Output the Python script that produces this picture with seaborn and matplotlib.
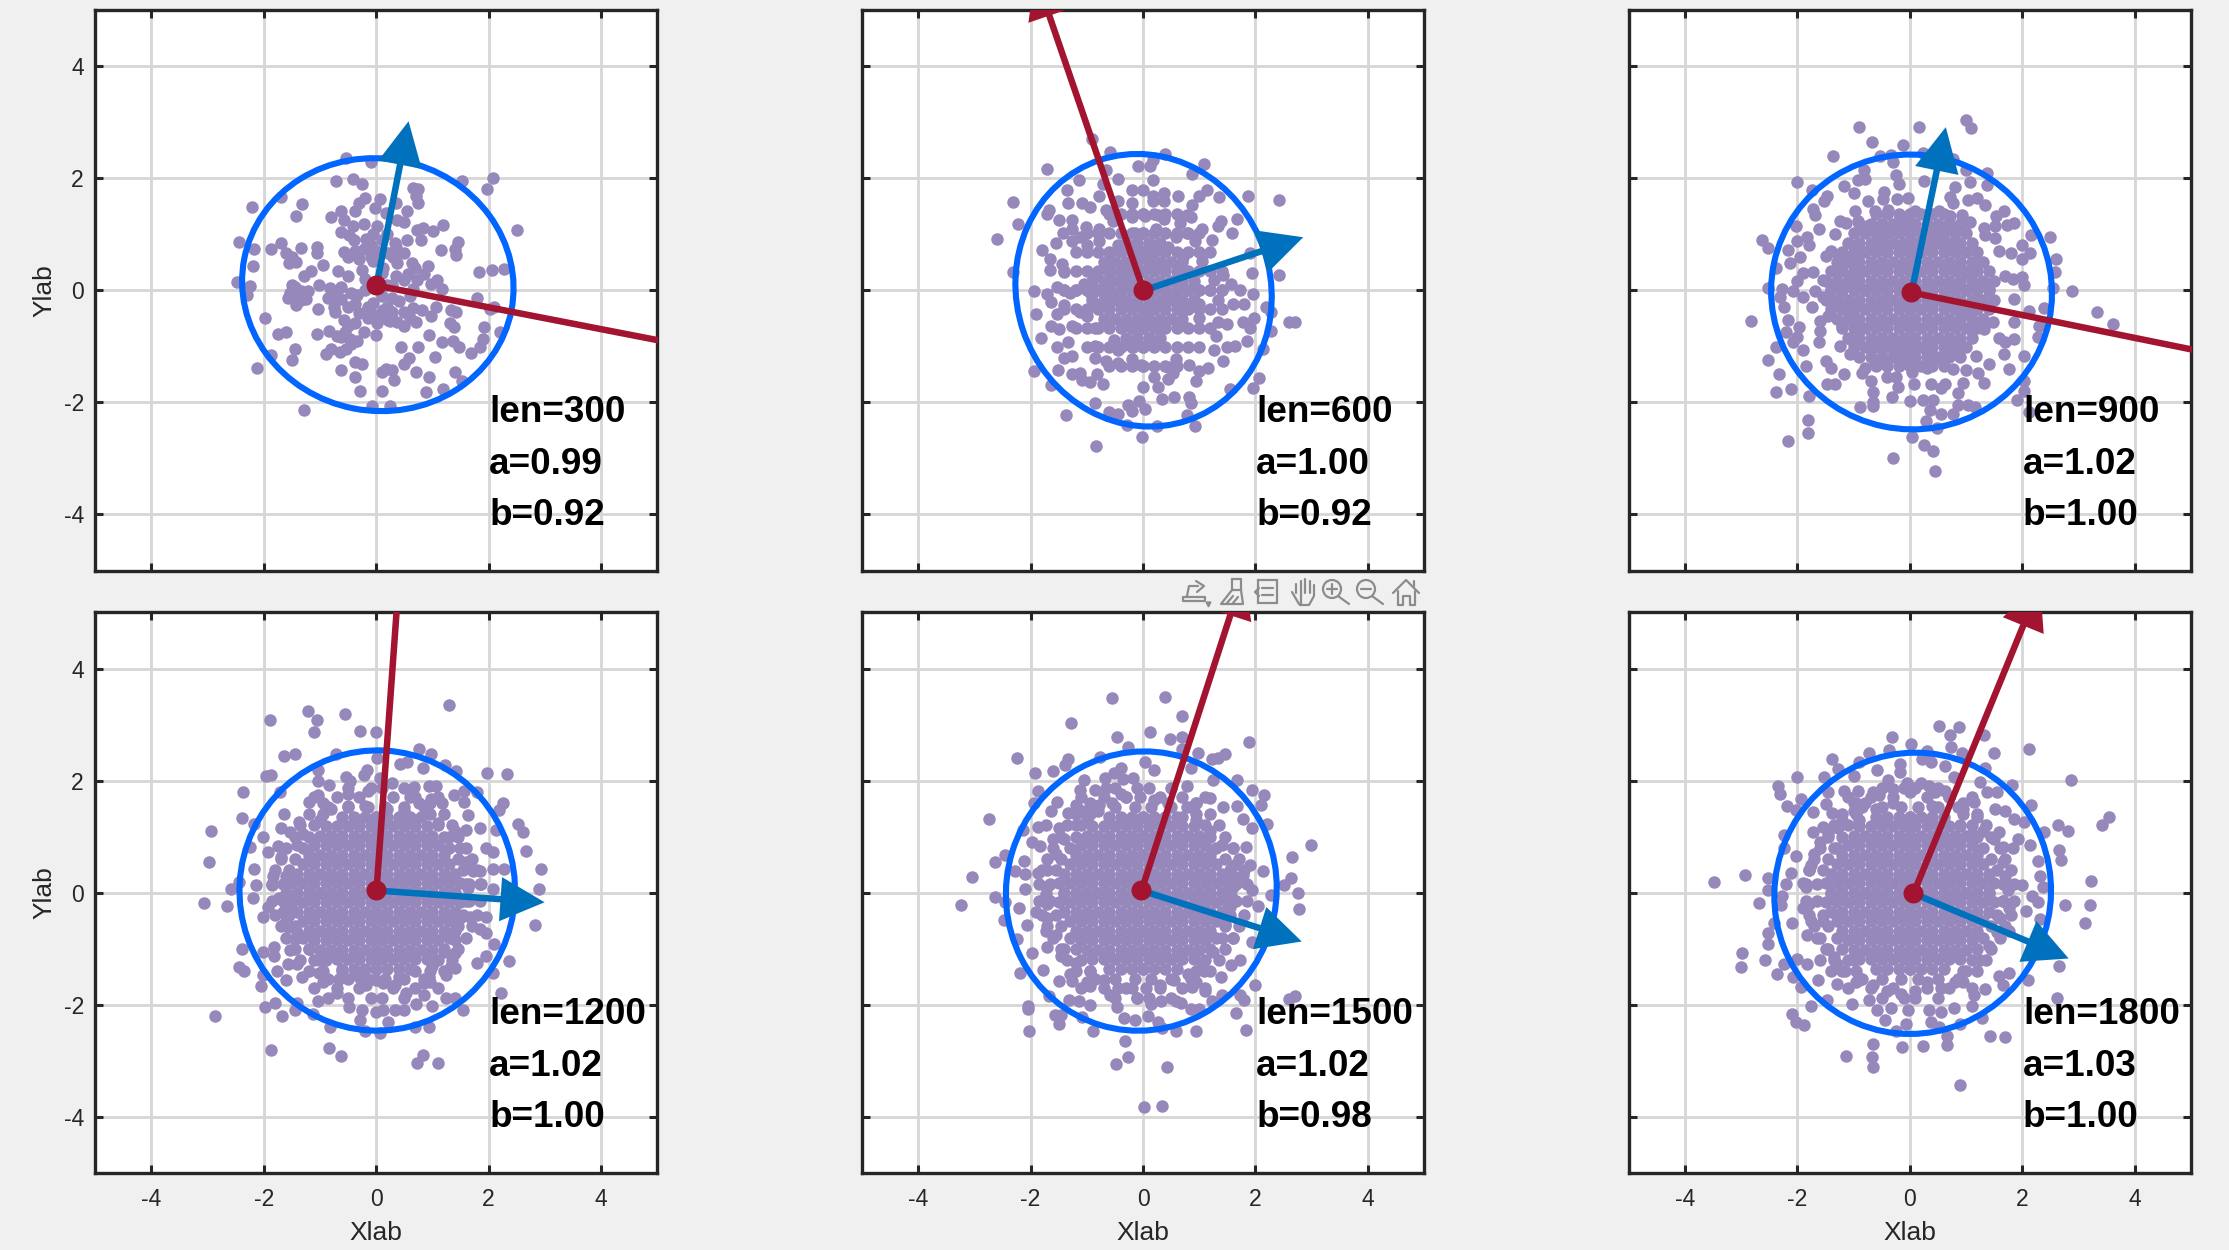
import matplotlib
matplotlib.use('Agg')
import matplotlib.pyplot as plt
from matplotlib.lines import Line2D
from matplotlib.patches import Circle, Ellipse, Rectangle
import seaborn as sns

# values, one small list per panel
lengths = [300, 600, 900, 1200, 1500, 1800]
a_vals = [0.99, 1.00, 1.02, 1.02, 1.02, 1.03]
b_vals = [0.92, 0.92, 1.00, 1.00, 0.98, 1.00]

origin_x = [0.0, 0.0, 0.02, 0.0, -0.03, 0.05]
origin_y = [0.1, 0.0, -0.03, 0.05, 0.04, -0.01]
blue_tip_x = [0.57, 2.84, 0.63, 2.99, 2.82, 2.81]
blue_tip_y = [3.03, 0.95, 2.92, -0.16, -0.87, -1.17]
red_tip_x = [6.0, -1.93, 6.0, 0.42, 1.79, 2.3]
red_tip_y = [-1.07, 5.65, -1.25, 5.9, 5.7, 5.5]

ell_x = [0.03, 0.01, 0.03, 0.02, -0.03, 0.05]
ell_y = [0.1, 0.0, -0.03, 0.04, 0.03, -0.01]
ell_w = [4.5, 4.52, 4.9, 4.9, 4.8, 4.9]
ell_h = [4.84, 4.9, 5.0, 5.0, 5.0, 5.04]
ell_angle = [79, 18.5, 78, -3, -17, -23]

# the middle of the clouds is solid, so these rows only stand for what is hidden there
# (y of the row, |x| values), used mirrored in all four quadrants
core_inner = [
    (0.0, [0, 0.2, 0.4, 0.6, 0.8]),
    (0.17, [0.1, 0.3, 0.5, 0.7, 0.9]),
    (0.34, [0, 0.2, 0.4, 0.6, 0.8]),
    (0.51, [0.1, 0.3, 0.5, 0.7]),
    (0.68, [0, 0.2, 0.4, 0.6]),
    (0.85, [0.1, 0.3]),
]
core_ring = [
    (0.0, [1.0, 1.2, 1.4]),
    (0.17, [1.1, 1.3, 1.5]),
    (0.34, [1.0, 1.2, 1.4]),
    (0.51, [0.9, 1.1, 1.3]),
    (0.68, [0.8, 1.0, 1.2]),
    (0.85, [0.5, 0.7, 0.9, 1.1]),
    (1.02, [0, 0.2, 0.4, 0.6, 0.8, 1.0]),
    (1.19, [0.1, 0.3, 0.5, 0.7, 0.9]),
    (1.36, [0, 0.2, 0.4, 0.6]),
]
core_band = [
    (0.15, [1.65, 1.85]),
    (0.4, [1.55, 1.8]),
    (0.6, [1.45, 1.7]),
    (0.8, [1.3, 1.6]),
    (1.0, [1.2, 1.45]),
    (1.2, [1.1, 1.35]),
    (1.4, [0.95, 1.2]),
    (1.53, [0.15, 0.5, 0.85]),
    (1.6, [0.95]),
    (1.7, [0.3, 0.7, 1.1]),
    (1.87, [0.1, 0.5]),
]

pts_300 = [(-0.54,2.36),(-0.09,2.28),(-0.72,1.95),(-0.42,1.98),(-0.25,1.9),(1.53,1.95),(2.08,2.0),(1.98,1.81),(0.65,1.83),(0.75,1.81),
    (0.71,1.68),(0.75,1.55),(-2.21,1.48),(-1.69,1.67),(-1.31,1.53),(-1.42,1.32),(-0.2,1.64),(0.07,1.62),(0.36,1.56),(-0.3,1.56),
    (-0.02,1.47),(-0.37,1.42),(-0.62,1.42),(-0.8,1.3),(-0.58,1.25),(-0.42,1.15),(-0.22,1.18),(0.55,1.42),(0.49,1.21),(0.37,1.25),
    (1.19,1.17),(0.73,1.08),(0.83,1.11),(1.01,1.05),(0.79,0.89),(2.5,1.08),(-0.62,1.04),(-0.48,0.98),(-2.44,0.86),(-1.69,0.85),
    (-2.18,0.73),(-1.87,0.74),(-1.06,0.77),(-1.06,0.67),(-1.33,0.76),(-1.61,0.67),(-1.49,0.59),(-1.55,0.48),(-1.43,0.5),(-0.95,0.45),
    (-2.19,0.44),(1.46,0.86),(1.4,0.74),(1.15,0.71),(1.42,0.63),(1.83,0.33),(2.06,0.36),(2.28,0.38),(1.79,-0.14),(2.1,-0.29),
    (2.02,-0.34),(1.33,-0.35),(1.42,-0.38),(1.07,-0.29),(1.31,-0.59),(1.38,-0.65),(1.92,-0.65),(2.21,-0.75),(1.9,-0.87),(0.94,-0.8),
    (1.18,-0.92),(1.37,-0.9),(1.48,-1.02),(1.84,-1.02),(1.69,-1.12),(0.45,-1.02),(0.75,-1.02),(1.05,-1.19),(0.59,-1.21),(0.49,-1.31),
    (0.1,-1.45),(0.17,-1.41),(0.29,-1.43),(0.71,-1.45),(0.94,-1.54),(1.4,-1.45),(1.52,-1.62),(0.32,-1.6),(0.89,-1.82),(1.19,-1.76),
    (0.11,-1.8),(-0.28,-1.8),(-0.08,-2.06),(0.24,-2.07),(-1.28,-2.13),(-0.37,-1.55),(-0.63,-1.43),(-0.38,-1.28),(-0.25,-1.31),(-2.12,-1.38),
    (-1.49,-1.24),(-1.45,-1.05),(-1.87,-1.16),(-1.74,-0.78),(-1.6,-0.75),(-1.97,-0.5),(-1.05,-0.78),(-1.04,-0.34),(-0.74,-0.39),(-0.83,-0.73),
    (-0.9,-1.14),(-0.8,-1.05),(-0.64,-1.1),(-0.54,-1.04),(-0.62,-0.83),(-0.7,-0.82),(-0.46,-0.87),(-0.34,-0.9),(-0.5,-0.63),(-0.38,-0.59),
    (-0.58,-0.53),(-0.22,-0.75),(0,-0.8),(-0.14,-0.49),(0.02,-0.59),(0.21,-0.53),(0.37,-0.56),(0.49,-0.64),(0.71,-0.57),(0.13,-0.35),
    (0.29,-0.39),(0.49,-0.39),(0.65,-0.32),(0.81,-0.35),(0.97,-0.46),(0.28,-0.14),(-0.06,-0.22),(-0.38,-0.25),(-0.34,-0.08),(-0.62,0.05),
    (-0.82,0.04),(-0.85,-0.14),(-0.63,-0.15),(-1.01,0.09),(-1.21,-0.01),(-1.33,-0.18),(-1.43,-0.27),(-1.57,-0.14),(-1.45,0.05),(-1.33,-0.01),
    (-1.53,-0.05),(-2.25,0.07),(-2.29,-0.08),(-2.48,0.14),(-1.29,0.26),(-1.16,0.34),(-0.68,0.34),(-0.5,0.25),(-0.26,0.36),(-0.06,0.53),
    (-0.58,0.68),(-0.5,0.6),(-0.38,0.7),(-0.22,0.74),(-0.1,0.8),(-0.18,0.91),(-0.06,1.01),(0.02,1.15),(0.17,1.38),(0.33,0.84),
    (0.21,0.67),(0.49,0.67),(0.36,0.77),(0.37,0.48),(0.63,0.48),(0.93,0.43),(0.85,0.29),(0.57,0.29),(0.73,0.19),(1.09,0.19),
    (0.97,0.11),(1.18,0.02),(0.13,0.4),(-0.06,0.12),(0.29,0.09),(0.65,0.02),(0.49,0.19),(-0.2,0.0),(0.1,-0.1),(-0.45,-0.05),
    (-0.2,0.2),(0.2,0.1),(0.1,0.3),(-0.1,-0.4),(0.2,-0.3),(0.4,-0.2),(0.6,-0.1),(-0.3,-0.4),(-0.5,-0.3),(-0.7,-0.1),
    (0.0,0.7),(0.1,0.9),(0.2,1.0),(-0.1,0.6),(-0.3,0.55),(-0.4,0.9),(-0.75,-0.3),(-0.55,-0.75),(-0.45,-0.95),(0.35,0.25),
    (0.7,0.4),(0.25,-0.55),(0.6,-0.5),(-0.15,-0.3),(0.05,-0.45),(0.3,0.6),(0.55,0.9),(-1.4,-0.1),(-1.25,-0.15),(-1.5,0.1)]

pts_600 = [(-0.9,2.7),(-0.58,2.47),(-1.7,2.17),(0.39,2.43),(1.09,2.26),(0.87,2.08),(-0.09,2.22),(0.12,2.22),(0.17,2.33),(0.18,1.97),
    (-0.44,1.99),(-0.65,2.15),(-0.71,1.9),(-1.14,1.97),(-1.35,1.78),(-2.31,1.57),(-2.23,1.18),(-2.59,0.91),(-1.33,1.55),(-1.67,1.44),
    (-1.7,1.36),(-1.5,1.26),(-1.09,1.55),(-0.95,1.48),(-0.78,1.69),(-0.2,1.78),(0,1.78),(0.17,1.69),(0.37,1.73),(0.37,1.59),
    (0.17,1.59),(0.63,1.69),(1.14,1.78),(0.99,1.69),(1.36,1.66),(1.87,1.69),(2.41,1.61),(1.67,1.27),(1.39,1.23),(1.33,1.15),
    (1.59,1.02),(1.22,0.89),(1.05,1.09),(0.88,1.52),(0.78,1.34),(0.65,1.2),(0.85,1.3),(-0.44,1.59),(-0.2,1.55),(-0.65,1.43),
    (-0.2,1.3),(0.03,1.32),(0.27,1.34),(0.37,1.27),(-0.54,1.23),(-1.26,1.26),(-1.43,1.02),(-1.02,1.13),(-0.78,1.09),(-1.26,1.09),
    (-1.54,0.85),(-1.8,0.71),(-1.65,0.55),(-1.65,0.37),(-1.44,0.47),(-1.41,0.32),(-2.31,0.33),(-1.26,0.88),(-1.12,0.95),(-0.99,0.81),
    (-0.78,0.88),(-0.58,0.67),(-0.44,0.81),(-0.14,1.02),(0.24,1.09),(0.58,0.95),(0.78,1.02),(0.92,0.88),(0.44,0.78),(0.17,0.67),
    (-0.03,0.6),(0.71,0.6),(1.05,0.53),(1.9,0.67),(2.41,0.28),(1.93,0.3),(1.43,0.28),(1.26,0.18),(1.56,0.11),(1.73,0),
    (1.95,-0.07),(1.8,-0.25),(2.18,-0.3),(2.28,-0.39),(2.59,-0.56),(2.7,-0.56),(2.28,-0.73),(1.97,-0.49),(1.77,-0.56),(1.9,-0.67),
    (1.85,-0.9),(2.14,-1.04),(1.63,-0.99),(1.5,-1.02),(1.43,-1.27),(1.26,-1.06),(1.29,-0.81),(1.33,-0.56),(1.5,-0.61),(1.6,-0.25),
    (1.33,-0.18),(0.99,-0.25),(0.99,-0.49),(0.78,-0.25),(0.58,-0.04),(0.71,-0.35),(0.37,-0.21),(0.17,-0.32),(0.24,-0.67),(-0.17,-0.67),
    (-0.34,-0.63),(0.03,-0.46),(-0.31,-0.25),(-0.51,-0.11),(-0.71,-0.25),(-0.92,-0.07),(-1.05,0.11),(-0.85,0.25),(-0.58,0.32),(-0.31,0.25),
    (-1.29,-0.05),(-1.53,0.05),(-1.7,-0.07),(-1.63,-0.21),(-1.94,-0.02),(-1.41,-0.26),(-1.53,-0.42),(-1.9,-0.42),(-1.63,-0.63),(-1.5,-0.7),
    (-1.82,-0.85),(-1.12,-0.39),(-0.85,-0.25),(-0.99,-0.46),(-1.26,-0.63),(-0.85,-0.67),(-0.65,-0.53),(-1.33,-0.92),(-1.53,-1.02),(-1.41,-1.2),
    (-1.26,-1.18),(-0.85,-1.2),(-0.85,-0.99),(-0.51,-0.88),(-0.17,-1.02),(-0.44,-1.06),(-0.65,-1.27),(-0.44,-1.3),(-0.2,-1.23),(-0.03,-1.34),
    (0.58,-1.23),(0.44,-1.37),(0.82,-1.34),(0.99,-1.44),(1.16,-1.39),(0.95,-1.62),(0.54,-1.48),(0.2,-1.55),(0.44,-1.59),(0.27,-1.73),
    (0.34,-1.94),(0.56,-1.9),(0.82,-1.9),(0.85,-2.02),(0,-1.73),(-0.07,-1.97),(-0.27,-2.04),(-0.2,-2.15),(0.03,-2.11),(-0.85,-2.02),
    (-0.61,-2.18),(-0.44,-2.21),(-0.29,-2.4),(0.25,-2.43),(0.78,-2.22),(0.92,-2.43),(-1.37,-2.23),(-0.02,-2.61),(-0.83,-2.77),(-1.94,-1.44),
    (-1.51,-1.43),(-1.63,-1.69),(-1.27,-1.5),(-1.12,-1.48),(-1.09,-1.6),(-0.95,-1.64),(-0.82,-1.5),(-0.71,-1.67),(2.06,-1.57),(1.95,-1.75),
    (1.54,-1.76)]

pts_900 = [(-0.9,2.92),(0.16,2.91),(1.0,3.04),(1.09,2.9),(-0.67,2.65),(-0.12,2.59),(-1.37,2.4),(-0.53,2.39),(-0.34,2.41),(-0.3,2.29),
    (0.24,2.44),(0.76,2.34),(1.38,2.1),(1.0,2.14),(-2.0,1.93),(-1.74,1.78),(-0.81,2.14),(-0.93,1.96),(-0.79,1.98),(-0.24,2.05),
    (-0.19,1.9),(0.26,1.95),(1.07,1.94),(1.38,1.88),(0.81,1.85),(-1.17,1.86),(-1.0,1.73),(-1.48,1.69),(-1.52,1.59),(-0.46,1.76),
    (-0.48,1.62),(-0.23,1.62),(-0.03,1.64),(0.72,1.66),(0.76,1.56),(1.03,1.61),(1.19,1.64),(1.33,1.52),(1.67,1.42),(1.54,1.32),
    (1.86,1.2),(1.72,1.16),(-1.72,1.45),(-1.69,1.35),(-0.74,1.59),(-0.97,1.42),(-0.62,1.42),(-0.38,1.43),(-1.24,1.23),(-1.14,1.2),
    (-1.34,1.0),(-1.62,1.09),(-2.02,1.15),(-0.93,1.23),(-0.76,1.15),(-0.17,1.32),(0.1,1.42),(0.52,1.42),(0.72,1.32),(0.93,1.35),
    (0.52,1.08),(1.07,1.21),(1.31,1.11),(1.52,1.15),(1.52,0.94),(1.34,0.98),(2.16,0.98),(2.5,0.95),(2.0,0.8),(2.14,0.67),
    (1.79,0.67),(1.59,0.7),(2.0,0.55),(2.6,0.55),(2.59,0.33),(2.55,0.04),(2.88,-0.01),(-2.63,0.89),(-2.53,0.75),(-2.16,0.72),
    (-2.0,0.87),(-1.83,0.95),(-1.79,0.8),(-1.95,0.59),(-2.13,0.48),(-2.38,0.4),(-1.5,0.61),(-1.41,0.7),(-1.28,0.63),(-1.9,0.31),
    (-1.72,0.33),(-1.3,0.33),(-1.54,0.19),(-2.0,0.16),(-2.52,0.04),(-2.28,0.02),(-2.31,-0.12),(-2.07,-0.01),(-1.9,-0.12),(-1.69,-0.01),
    (-1.41,0.09),(-1.55,-0.12),(-2.24,-0.29),(-1.74,-0.3),(-1.36,-0.27),(-1.07,0.26),(-1.17,0.05),(-1.1,0.6),(-0.93,0.53),(-2.83,-0.55),
    (-2.17,-0.53),(-2.21,-0.75),(-1.97,-0.66),(-2.0,-0.83),(-2.07,-0.93),(-2.38,-1.01),(-1.59,-0.55),(-1.45,-0.46),(-1.59,-0.73),(-1.62,-0.93),
    (-1.21,-0.63),(-1.07,-0.46),(-1.24,-1.0),(-1.07,-0.87),(-1.07,-1.14),(-1.9,-1.07),(-2.52,-1.24),(-1.84,-1.36),(-1.5,-1.26),(-1.41,-1.38),
    (-2.33,-1.5),(-2.12,-1.76),(-2.38,-1.82),(-1.8,-1.88),(-1.48,-1.67),(-1.34,-1.68),(-1.17,-1.5),(-0.86,-1.48),(-0.69,-1.62),(-0.62,-1.31),
    (-0.79,-1.38),(-0.66,-1.82),(-0.66,-1.99),(-0.88,-2.09),(-0.66,-2.07),(-0.31,-1.91),(-0.41,-1.55),(-0.24,-1.55),(-0.21,-1.72),(0.07,-1.68),
    (0,-1.97),(0.31,-1.38),(0.03,-1.45),(0.38,-1.68),(0.55,-1.75),(0.62,-1.68),(0.23,-1.96),(0.41,-1.96),(0.36,-2.14),(0.55,-2.2),
    (0.29,-2.33),(0.48,-2.46),(0.76,-2.21),(0.86,-2.05),(1.03,-2.05),(1.15,-2.09),(0.85,-1.84),(0.94,-1.65),(0.76,-1.41),(1.0,-1.43),
    (1.21,-1.48),(1.32,-1.65),(1.41,-1.31),(1.76,-1.41),(2.03,-1.17),(1.68,-1.14),(1.17,-1.17),(1.69,-0.93),(1.86,-0.87),(1.59,-0.85),
    (2.28,-0.83),(2.3,-0.63),(2.12,-0.37),(2.38,-0.32),(3.33,-0.39),(3.62,-0.61),(1.86,-0.15),(2.03,0.09),(2.0,0.23),(1.83,0.2),
    (1.69,0.26),(1.48,-0.56),(1.86,-0.56),(1.31,-0.7),(2.03,-1.62),(2.03,-1.8),(1.9,-1.96),(2.12,-2.18),(0.03,-2.61),(0.26,-2.76),
    (0.42,-2.86),(-0.3,-2.99),(0.45,-3.23),(-1.81,-2.32),(-1.81,-2.54),(-2.17,-2.69),
    (1.0,0.3),(1.2,0.5),(1.3,0.1),(1.2,-0.2),(1.0,-0.4),(1.1,-0.7),(0.9,-1.0),(0.7,-1.1),(0.5,-1.2),(0.3,-1.1),
    (0.1,-1.0),(-0.1,-1.1),(-0.3,-1.0),(-0.5,-1.0),(-0.7,-1.0),(-0.9,-0.7),(-1.1,-0.3),(-1.1,0.1),(-0.95,0.3),(-0.7,0.75),
    (-0.5,0.95),(-0.3,1.05),(0.3,1.05),(0.5,0.9),(0.8,0.8),(0.9,0.5),(0.1,1.1),(-0.1,1.1)]

pts_1200 = [(1.29,3.35),(-1.21,3.25),(-0.56,3.19),(-1.88,3.09),(-1.06,3.09),(-1.11,2.87),(-0.28,2.88),(0,2.87),(-1.44,2.48),(-1.63,2.44),
    (-0.72,2.47),(0.77,2.56),(0.97,2.47),(0.02,2.4),(0.43,2.29),(0.55,2.34),(1.23,2.28),(1.42,2.18),(0.83,2.22),(1.98,2.13),
    (2.32,2.12),(-1.95,2.09),(-1.87,2.1),(-1.04,2.19),(-0.17,2.19),(-0.22,2.1),(-0.54,2.06),(-0.46,1.99),(-1.04,1.99),(-0.84,1.93),
    (0.29,1.96),(0.07,2.05),(-1.71,1.79),(-2.36,1.79),(-0.14,1.82),(-0.5,1.77),(-1.04,1.75),(0.67,1.88),(0.94,1.9),(1.07,1.9),
    (0.61,1.71),(1.39,1.74),(1.56,1.82),(1.56,1.62),(1.8,1.79),(-1.19,1.62),(2.26,1.6),(2.18,1.47),(0.77,1.6),(1.17,1.6),
    (0.97,1.68),(-1.63,1.41),(-2.39,1.33),(-2.17,1.23),(1.63,1.38),(2.52,1.23),(2.61,1.09),(-2.93,1.11),(-2.01,0.99),(-1.37,1.27),
    (-1.69,1.16),(-1.53,1.09),(1.6,1.12),(1.84,1.16),(2.13,1.12),(1.4,1.1),(2.67,0.74),(1.96,0.79),(2.08,0.73),(-2.25,0.81),
    (-1.93,0.73),(-1.75,0.83),(-1.69,0.64),(-2.98,0.54),(-2.18,0.42),(2.93,0.43),(1.72,0.38),(1.84,0.38),(2.08,0.42),(2.27,0.42),
    (-1.83,0.29),(-2.13,0.13),(-1.85,0.13),(-2.58,0.07),(-2.44,0.2),(2.89,0.07),(1.64,0.09),(1.87,0.16),(2.08,0.07),(-3.06,-0.19),
    (-2.66,-0.24),(-2.19,-0.1),(-1.73,-0.1),(-1.93,-0.26),(-2.01,-0.43),(-1.65,-0.35),(1.67,-0.43),(1.96,-0.43),(2.82,-0.58),(-1.57,-0.61),
    (-1.45,-0.83),(1.84,-0.65),(1.96,-0.72),(1.4,-0.69),(-2.38,-1.0),(-2.01,-1.06),(-1.81,-0.97),(-1.81,-1.12),(-1.53,-1.02),(2.1,-0.92),
    (1.4,-1.07),(1.96,-1.12),(1.8,-1.26),(2.37,-1.22),(-2.44,-1.33),(-2.35,-1.39),(-1.77,-1.4),(-1.57,-1.28),(-1.41,-1.28),(-1.02,-1.2),
    (-1.02,-1.43),(-1.31,-1.51),(-1.61,-1.56),(-2.01,-1.46),(2.08,-1.44),(1.25,-1.46),(1.33,-1.31),(1.4,-1.35),(1.05,-1.2),(0.94,-1.5),
    (-2.05,-1.67),(-0.66,-1.54),(-0.18,-1.65),(0.13,-1.61),(0.33,-1.65),(0.85,-1.61),(0.53,-1.79),(-0.7,-1.79),(-0.86,-1.87),(-1.04,-1.94),
    (-1.8,-1.96),(-1.41,-1.96),(2.22,-1.79),(0.85,-1.83),(1.25,-1.88),(1.4,-1.87),(0.71,-1.98),(0.99,-2.02),(-1.97,-2.04),(-1.68,-2.2),
    (-1.44,-2.09),(-1.13,-2.16),(-0.48,-2.03),(-0.26,-2.09),(0,-2.13),(0.13,-2.1),(0.33,-2.09),(0.49,-2.09),(1.54,-2.09),(-0.28,-2.27),
    (0.21,-2.31),(-0.82,-2.4),(0.69,-2.4),(0.94,-2.4),(-0.2,-2.46),(0.06,-2.5),(-2.87,-2.2),(-1.87,-2.81),(-0.83,-2.77),(-0.63,-2.92),
    (0.83,-2.9),(0.73,-3.03),(1.1,-3.04),
    (-1.6,0.3),(-1.6,0.0),(-1.6,-0.3),(-1.4,0.85),(-1.3,1.05),(-1.0,1.3),(-0.8,1.5),(-0.5,1.55),(-0.2,1.55),(0.2,1.5),
    (0.5,1.45),(0.8,1.35),(1.1,1.25),(1.3,1.0),(1.5,0.8),(1.6,0.55),(1.6,0.15),(1.6,-0.15),(1.5,-0.45),(1.4,-0.85),
    (1.2,-1.05),(1.0,-1.3),(0.7,-1.4),(0.4,-1.5),(0.0,-1.55),(-0.3,-1.5),(-0.6,-1.4),(-0.9,-1.2),(-1.2,-1.0),(-1.4,-0.7),(-1.6,-0.5)]

pts_1500 = [(-0.56,3.48),(0.39,3.49),(0.69,3.15),(-1.28,3.03),(-0.46,2.78),(0.13,2.87),(0.48,2.75),(0.7,2.77),(1.89,2.69),(-0.27,2.6),
    (0.7,2.56),(0.97,2.5),(1.46,2.48),(1.33,2.4),(1.22,2.39),(-2.24,2.4),(-1.33,2.38),(-1.39,2.28),(-1.92,2.14),(-1.6,2.17),
    (-0.77,2.43),(-0.39,2.23),(-0.51,2.14),(0.03,2.34),(0.2,2.19),(0.85,2.23),(-1.05,2.01),(-0.68,2.05),(-0.36,2.03),(-0.17,2.05),
    (1.24,2.01),(1.67,2.02),(-1.12,1.84),(-0.85,1.84),(-0.66,1.86),(-0.39,1.77),(0.78,1.9),(1.94,1.84),(2.16,1.75),(2.1,1.57),
    (-1.87,1.81),(-1.94,1.6),(-1.53,1.62),(-1.19,1.57),(-0.78,1.57),(-1.63,1.45),(-1.33,1.42),(-1.09,1.45),(0.95,1.6),(1.2,1.69),
    (0.78,1.53),(1.43,1.53),(1.68,1.54),(2.21,1.23),(1.94,1.16),(1.77,1.31),(-2.74,1.32),(-2.14,1.12),(-1.86,1.17),(-1.72,1.2),
    (-1.5,1.16),(-1.6,0.95),(-1.97,0.9),(-1.84,0.83),(2.98,0.86),(2.65,0.64),(1.84,0.81),(1.6,0.79),(1.9,0.49),(1.61,0.49),
    (2.14,0.38),(2.63,0.27),(2.5,0.14),(1.77,0.31),(-2.63,0.55),(-2.45,0.68),(-2.11,0.57),(-1.87,0.36),(-3.05,0.28),(-2.28,0.38),
    (-2.09,0.33),(-2.09,0.07),(1.93,0.04),(2.76,0),(2.28,-0.04),(1.56,-0.06),(-2.63,-0.07),(-3.24,-0.21),(-2.45,-0.16),(-2.21,-0.28),
    (-1.9,-0.35),(-1.73,-0.02),(2.78,-0.29),(2.04,-0.24),(-2.48,-0.49),(-2.07,-0.58),(-1.73,-0.69),(-2.24,-0.83),(-1.7,-0.97),(-1.97,-1.08),
    (-2.19,-1.43),(-1.77,-1.37),(-1.46,-1.13),(1.94,-0.87),(1.6,-0.8),(1.73,-1.2),(1.56,-1.29),(1.38,-1.51),(1.09,-1.39),(-1.5,-1.57),
    (-1.26,-1.57),(-0.95,-1.66),(-0.58,-1.83),(-0.1,-1.87),(0.88,-1.68),(1.99,-1.65),(1.11,-1.76),(-1.67,-1.85),(-1.31,-1.91),(-1.14,-1.93),
    (-0.95,-2.0),(-0.46,-2.03),(0.14,-1.98),(0.32,-1.94),(0.59,-1.93),(0.68,-1.96),(1.41,-1.83),(1.73,-1.83),(1.8,-1.91),(2.59,-1.89),
    (2.7,-1.85),(1.22,-1.94),(0.85,-2.08),(0.99,-2.08),(1.65,-2.14),(-2.05,-2.02),(-2.05,-2.08),(-1.56,-2.18),(-1.46,-2.18),(-1.09,-2.22),
    (-0.34,-2.24),(-0.14,-2.27),(0.09,-2.2),(0.27,-2.3),(-1.5,-2.35),(-2.02,-2.46),(-0.89,-2.46),(0.34,-2.42),(0.58,-2.46),(0.94,-2.46),
    (1.84,-2.44),(-0.32,-2.64),(-0.27,-2.93),(-0.48,-3.06),(0.43,-3.1),(0.02,-3.83),(0.33,-3.8),
    (-1.7,0.4),(-1.7,0.1),(-1.7,-0.2),(-1.7,-0.45),(-1.55,0.7),(-1.4,0.95),(-1.2,1.2),(-1.0,1.3),(-0.8,1.45),(-0.55,1.6),
    (-0.3,1.7),(-0.05,1.7),(0.2,1.65),(0.45,1.6),(0.7,1.35),(0.95,1.3),(1.2,1.1),(1.4,0.85),(1.6,0.3),(1.6,0.1),
    (1.55,-0.25),(1.45,-0.55),(1.4,-0.8),(1.25,-1.05),(1.05,-1.25),(0.8,-1.45),(0.55,-1.55),(0.3,-1.65),(0.05,-1.7),(-0.2,-1.7),
    (-0.45,-1.7),(-0.7,-1.55),(-0.95,-1.4),(-1.2,-1.25),(-1.4,-1.0),(-1.55,-0.75),(-1.3,-1.45),(-1.0,-1.6)]

pts_1800 = [(0.51,2.98),(0.87,2.95),(0.72,2.81),(-0.32,2.77),(1.31,2.81),(0.02,2.65),(0.73,2.6),(2.12,2.56),(-0.37,2.55),(-0.72,2.5),
    (0.3,2.53),(0.93,2.5),(1.5,2.49),(-1.38,2.39),(-0.9,2.33),(-1.28,2.21),(-0.17,2.3),(0.21,2.38),(0.38,2.34),(0.62,2.27),
    (1.34,2.23),(-2.0,2.06),(-1.52,2.06),(-1.0,2.08),(-0.59,2.19),(-0.38,2.01),(-0.17,2.16),(0.79,2.06),(1.81,1.93),(1.24,1.97),
    (2.86,2.01),(-2.34,1.9),(-2.31,1.77),(-1.93,1.68),(-1.45,1.79),(-1.17,1.81),(-0.93,1.82),(-0.66,1.79),(0,1.79),(0.34,1.9),
    (0.62,1.81),(1.38,1.8),(1.55,1.8),(2.16,1.57),(-2.19,1.54),(-2.03,1.48),(-1.72,1.44),(-1.5,1.59),(-1.38,1.42),(-1.0,1.6),
    (1.14,1.62),(1.52,1.49),(1.69,1.45),(1.86,1.31),(2.03,1.27),(3.55,1.35),(3.41,1.21),(2.64,1.21),(2.81,1.1),(2.39,1.09),
    (-2.24,1.03),(-1.72,1.09),(-1.55,1.17),(-1.28,1.16),(1.59,1.09),(1.93,0.95),(2.14,0.86),(2.66,0.77),(2.68,0.59),(1.66,0.81),
    (1.83,0.79),(-2.24,0.79),(-2.03,0.66),(2.28,0.57),(-2.93,0.32),(-3.48,0.2),(-2.52,0.26),(-2.12,0.35),(-2.21,0.16),(-1.9,0.18),
    (-2.53,0.04),(-1.76,0.49),(2.31,0.29),(3.22,0.21),(2.37,0.11),(2.0,0.13),(2.17,-0.06),(2.76,-0.21),(3.21,-0.22),(-2.69,-0.19),
    (-2.28,-0.06),(-2.3,-0.21),(-1.9,-0.28),(1.76,-0.28),(2.07,-0.32),(2.28,-0.17),(3.12,-0.54),(-2.1,-0.54),(-2.41,-0.54),(-1.55,-0.5),
    (-2.52,-0.72),(-2.53,-0.92),(-1.83,-0.76),(1.76,-0.69),(2.31,-0.47),(-2.99,-1.07),(-3.0,-1.32),(-2.58,-1.2),(-2.36,-1.45),(-2.23,-1.28),
    (-2.0,-1.19),(-1.83,-1.28),(-2.07,-1.5),(-1.6,-1.2),(-1.29,-1.28),(-1.41,-1.4),(-1.93,-1.68),(-1.63,-1.55),(-1.3,-1.63),(2.66,-1.31),
    (2.1,-1.56),(1.76,-1.43),(1.59,-1.48),(1.66,-1.65),(1.34,-1.72),(1.14,-1.83),(-1.48,-1.91),(-1.76,-2.02),(-1.03,-1.99),(-0.72,-1.91),
    (2.62,-1.87),(-2.1,-2.16),(-2.03,-2.31),(-1.88,-2.36),(-0.59,-2.09),(-0.34,-2.05),(-0.03,-2.09),(0.34,-2.09),(0.55,-2.13),(0.79,-2.05),
    (1.1,-2.02),(1.28,-2.24),(-0.45,-2.27),(-0.07,-2.35),(0.38,-2.3),(0.52,-2.39),(0.9,-2.35),(-0.24,-2.47),(0.66,-2.55),(-0.66,-2.7),
    (0.24,-2.74),(-0.14,-2.75),(0.66,-2.72),(1.43,-2.55),(1.7,-2.58),(-1.13,-2.92),(-0.68,-2.93),(-0.65,-3.11),(0.9,-3.43),
    (-1.85,0.1),(-1.8,0.4),(-1.8,-0.2),(-1.75,-0.5),(-1.7,0.7),(-1.6,0.9),(-1.45,1.05),(-1.65,-0.8),(-1.5,-1.0),(-1.35,0.8),
    (-1.2,1.3),(-1.0,1.45),(-0.8,1.6),(-0.55,1.75),(-0.3,1.85),(-0.05,1.95),(0.2,1.95),(0.45,1.8),(0.7,1.7),(0.95,1.5),
    (1.2,1.35),(1.3,1.1),(1.5,0.95),(1.65,0.55),(1.7,0.3),(1.75,0.05),(1.65,-0.15),(1.6,-0.45),(1.55,-0.7),(1.4,-0.95),
    (1.25,-1.2),(1.0,-1.4),(0.8,-1.6),(0.55,-1.7),(0.3,-1.6),(0.1,-1.75),(-0.15,-1.8),(-0.4,-1.75),(-0.65,-1.65),(-0.9,-1.55),
    (-1.15,-1.4),(-1.35,-1.15),(-1.0,-1.2),(-0.3,1.6),(0.4,1.55),(-0.6,1.5),(-0.9,1.3),(0.9,1.2),(1.1,1.05)]


def mirror_rows(rows):
    out = []
    for y, xs in rows:
        for x in xs:
            for sx in (1, -1):
                for sy in (1, -1):
                    out.append((sx * x, sy * y))
    return out


inner = mirror_rows(core_inner)
ring = mirror_rows(core_ring)
band = mirror_rows(core_band)
panel_points = [
    pts_300,
    pts_600 + inner + mirror_rows(core_ring[::2]),
    pts_900 + inner + ring,
    pts_1200 + inner + ring + band,
    pts_1500 + inner + ring + band,
    pts_1800 + inner + ring + band,
]

PURPLE = '#9688BB'
BLUE = '#0072BD'
RED = '#A2142F'
RING = '#0066FF'
DARK = '#262626'

sns.set_theme(style='white')
plt.rcParams['font.family'] = ['Liberation Sans', 'DejaVu Sans']
plt.rcParams['axes.unicode_minus'] = False

fig, axes = plt.subplots(2, 3, figsize=(22.29, 12.5), dpi=100, facecolor='#F0F0F0')
fig.subplots_adjust(left=95 / 2229, right=2191 / 2229, top=1 - 10 / 1250, bottom=1 - 1173 / 1250,
                    wspace=204.5 / 562, hspace=42 / 561)

for i, ax in enumerate(axes.flat):
    xs = [p[0] for p in panel_points[i]]
    ys = [p[1] for p in panel_points[i]]
    sns.scatterplot(x=xs, y=ys, ax=ax, color=PURPLE, s=81, linewidth=0, legend=False, zorder=2)

    ax.add_patch(Ellipse((ell_x[i], ell_y[i]), ell_w[i], ell_h[i], angle=ell_angle[i],
                         fill=False, edgecolor=RING, linewidth=4.4, zorder=3))

    # tips stay in data units, width and head are in dots
    ox, oy = origin_x[i], origin_y[i]
    for tx, ty, col in [(red_tip_x[i], red_tip_y[i], RED), (blue_tip_x[i], blue_tip_y[i], BLUE)]:
        ax.quiver(ox, oy, tx - ox, ty - oy, angles='xy', scale_units='xy', scale=1, color=col,
                  units='dots', width=6.5, headwidth=6.8, headlength=6.8, headaxislength=6.8, zorder=4)
    ax.scatter([ox], [oy], s=207, color=RED, linewidth=0, zorder=5)

    ax.text(2.01, -2.18, f'len={lengths[i]}', fontsize=26.6, fontweight='bold', color='black', va='center', zorder=6)
    ax.text(2.01, -3.1, f'a={a_vals[i]:.2f}', fontsize=26.6, fontweight='bold', color='black', va='center', zorder=6)
    ax.text(2.01, -4.01, f'b={b_vals[i]:.2f}', fontsize=26.6, fontweight='bold', color='black', va='center', zorder=6)

    ax.set_xlim(-5, 5)
    ax.set_ylim(-5, 5)
    ax.set_xticks([-4, -2, 0, 2, 4])
    ax.set_yticks([-4, -2, 0, 2, 4])
    ax.set_axisbelow(True)
    ax.grid(True, color='#D6D6D6', linewidth=2.0)
    ax.tick_params(direction='in', top=True, right=True, bottom=True, left=True, length=6, width=2.2,
                   color=DARK, labelcolor=DARK, labelsize=16.5, pad=8,
                   labelbottom=i >= 3, labelleft=i % 3 == 0)
    ax.tick_params(axis='x', pad=11)
    for spine in ax.spines.values():
        spine.set_linewidth(2.4)
        spine.set_color(DARK)
    if i >= 3:
        ax.set_xlabel('Xlab', fontsize=19, color=DARK, labelpad=7)
    if i % 3 == 0:
        ax.set_ylabel('Ylab', fontsize=19, color=DARK, labelpad=5)

# axes toolbar between the rows, drawn in picture pixels
bar = fig.add_axes([0, 0, 1, 1], facecolor='none')
bar.set_xlim(0, 2229)
bar.set_ylim(1250, 0)
bar.axis('off')
GREY = '#8C8C8C'


def stroke(px, py, lw=1.6):
    bar.add_line(Line2D(px, py, color=GREY, linewidth=lw, solid_capstyle='round'))


def magnifier(cx, minus_only):
    bar.add_patch(Circle((cx, 589), 9, fill=False, edgecolor=GREY, linewidth=1.6))
    stroke([cx + 6, cx + 17], [596, 604])
    stroke([cx - 5, cx + 5], [589, 589])
    if not minus_only:
        stroke([cx, cx], [584, 594])


# export
stroke([1183, 1183, 1205, 1205, 1183], [597, 601, 601, 597, 597])
stroke([1187, 1189, 1198], [596, 586, 586])
stroke([1196, 1204, 1197], [581, 586, 592])
bar.add_line(Line2D([1208], [604], marker='v', color=GREY, markersize=3.5))
# brush
stroke([1232, 1232, 1241, 1241, 1232], [579, 590, 590, 579, 579])
stroke([1232, 1221, 1243, 1241], [590, 604, 604, 590])
stroke([1227, 1233], [603, 596])
stroke([1233, 1238], [603, 597])
# data tips
bar.add_patch(Rectangle((1258, 580), 19, 23, fill=False, edgecolor=GREY, linewidth=1.6))
stroke([1259, 1255, 1259], [588, 592, 596])
stroke([1262, 1273], [588, 588])
stroke([1262, 1273], [595, 595])
# hand
stroke([1292, 1299, 1301, 1301], [592, 604, 605, 581])
stroke([1305, 1305], [579, 593])
stroke([1310, 1310], [581, 593])
stroke([1314, 1314, 1309, 1300], [585, 596, 605, 605])
stroke([1296, 1296], [584, 593])
# zoom in, zoom out
magnifier(1332, False)
magnifier(1366, True)
# home
stroke([1393, 1406, 1419], [593, 580, 593])
stroke([1398, 1398, 1403, 1403, 1410, 1410, 1415, 1415], [591, 605, 605, 596, 596, 605, 605, 591])
stroke([1414, 1414], [581, 586])

fig.savefig('out.png', dpi=100, facecolor=fig.get_facecolor())
